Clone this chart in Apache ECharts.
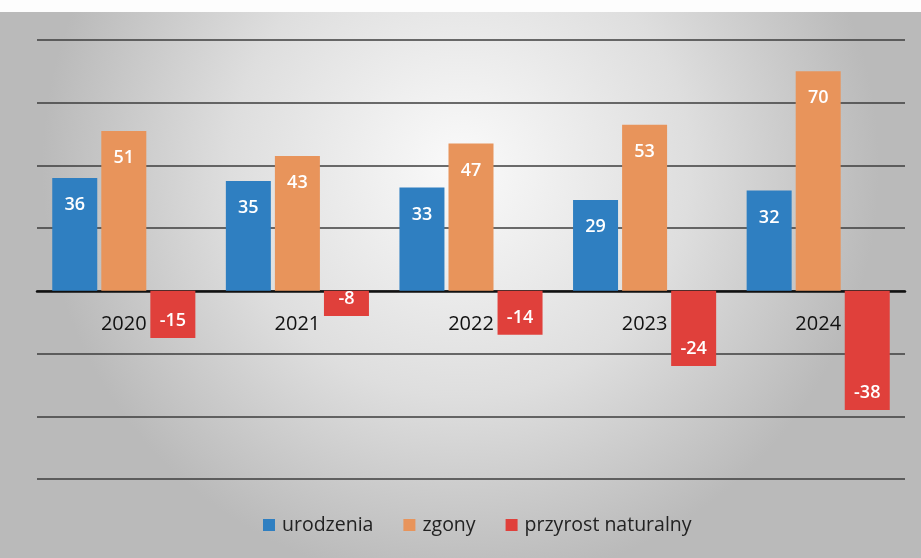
<!DOCTYPE html>
<html>
<head>
<meta charset="utf-8">
<script src="https://cdn.jsdelivr.net/npm/echarts@6/dist/echarts.min.js"></script>
<style>
  html, body { margin: 0; padding: 0; background: #fff; }
  #chart { width: 921px; height: 558px; }
</style>
</head>
<body>
<div id="chart"></div>
<script>
const years = ['2020', '2021', '2022', '2023', '2024'];
const births = [36, 35, 33, 29, 32];
const deaths = [51, 43, 47, 53, 70];
const naturalGrowth = [-15, -8, -14, -24, -38];

const font = '"Open Sans", "Noto Sans", sans-serif';

const barLabel = (position, distance) => ({
    show: true,
    position: position,
    distance: distance,
    color: '#fff',
    fontSize: 18,
    fontWeight: 600,
    fontFamily: font,
});

const chart = echarts.init(document.getElementById('chart'), null, { renderer: 'canvas' });

chart.setOption({
    animation: false,
    backgroundColor: {
        type: 'radial',
        x: 0.5, y: 0.3, r: 0.75,
        colorStops: [
            { offset: 0, color: '#fafafa' },
            { offset: 0.55, color: '#dedede' },
            { offset: 1, color: '#bababa' },
        ],
    },
    graphic: [
        // white strip above the scanned panel
        { type: 'rect', left: 0, top: 0, shape: { width: 921, height: 12 }, style: { fill: '#fdfdfd' }, z: -1 },
    ],
    grid: { left: 37, right: 16, top: 40, bottom: 79 },
    legend: {
        bottom: 18,
        left: 258,
        itemWidth: 12,
        itemHeight: 12,
        itemGap: 30,
        icon: 'rect',
        textStyle: { color: '#222', fontSize: 19.5, fontFamily: font, padding: [0, 0, 0, 2] },
        data: ['urodzenia', 'zgony', 'przyrost naturalny'],
    },
    xAxis: {
        type: 'category',
        data: years,
        axisLine: { onZero: true, lineStyle: { color: '#111', width: 2.5 } },
        axisTick: { show: false },
        // labels sit just under the zero line, not at the grid bottom
        axisLabel: { color: '#111', fontSize: 20, fontFamily: font, margin: -165 },
    },
    yAxis: {
        type: 'value',
        min: -60,
        max: 80,
        interval: 20,
        axisLine: { show: false },
        axisTick: { show: false },
        axisLabel: { show: false },
        splitLine: { lineStyle: { color: '#3c3c3c', width: 1.5 } },
    },
    series: [
        {
            name: 'urodzenia',
            type: 'bar',
            data: births,
            itemStyle: { color: '#2f7fc1' },
            barWidth: 45,
            barGap: '9%',
            label: barLabel('insideTop', 18),
        },
        {
            name: 'zgony',
            type: 'bar',
            data: deaths,
            itemStyle: { color: '#e8945b' },
            barWidth: 45,
            barGap: '9%',
            label: barLabel('insideTop', 18),
        },
        {
            name: 'przyrost naturalny',
            type: 'bar',
            data: naturalGrowth,
            itemStyle: { color: '#e0403b' },
            barWidth: 45,
            barGap: '9%',
            z: 3,
            label: barLabel('insideBottom', 8),
        },
    ],
});
</script>
</body>
</html>
